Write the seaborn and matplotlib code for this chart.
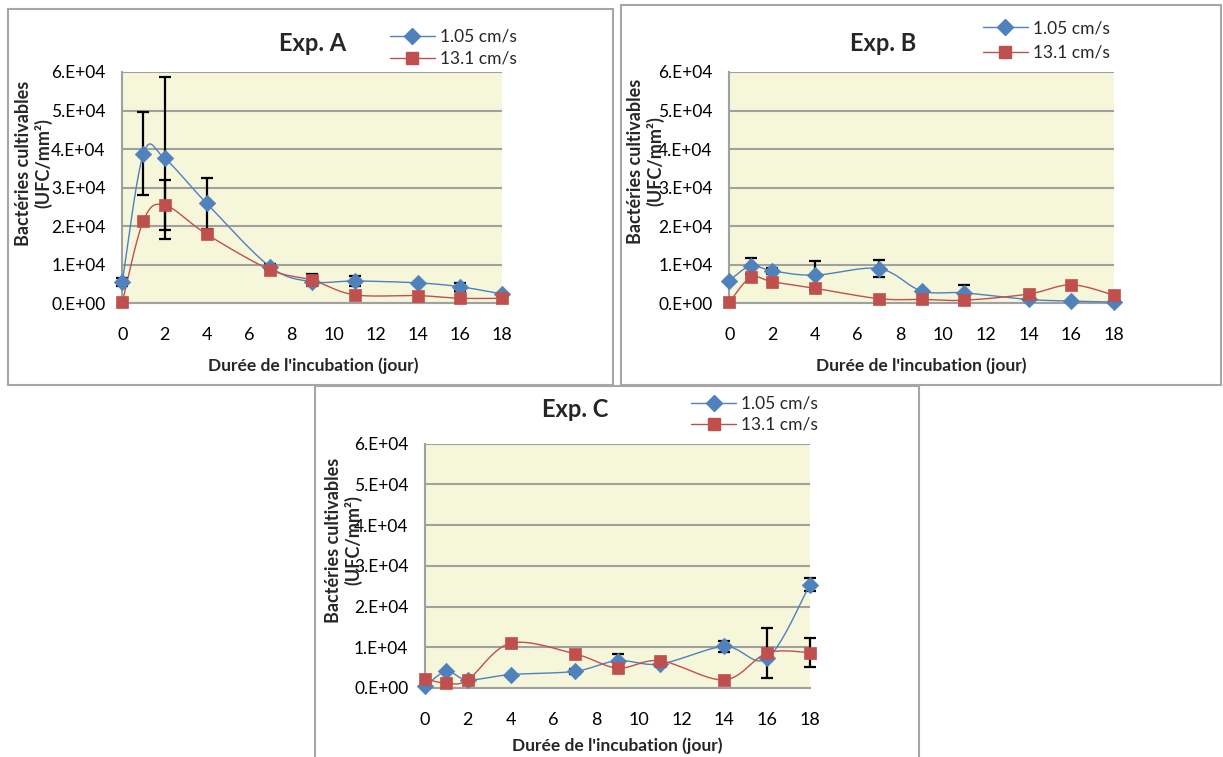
import numpy as np
import pandas as pd
import matplotlib
matplotlib.use("Agg")
import matplotlib.pyplot as plt
from matplotlib.lines import Line2D
from matplotlib.patches import Rectangle
from matplotlib.ticker import FuncFormatter, MultipleLocator
import seaborn as sns

# Données
days = [0, 1, 2, 4, 7, 9, 11, 14, 16, 18]
labels = ["1.05 cm/s", "13.1 cm/s"]

# Exp. A
a_slow = [5600, 38800, 37600, 25900, 9500, 5600, 5800, 5300, 4300, 2400]
a_fast = [300, 21400, 25500, 17900, 8700, 6000, 2200, 2000, 1300, 1300]
a_slow_err = [1000, 10700, 21000, 6600, 800, 0, 1200, 0, 1000, 0]
a_fast_err = [0, 0, 6500, 0, 0, 1500, 0, 0, 0, 0]

# Exp. B
b_slow = [5900, 9700, 8400, 7300, 9000, 3200, 2700, 1000, 600, 300]
b_fast = [300, 6700, 5600, 3900, 1200, 1000, 800, 2400, 4800, 2100]
b_slow_err = [0, 2000, 800, 3800, 2200, 0, 2000, 0, 0, 0]
b_fast_err = [0, 0, 0, 0, 0, 0, 0, 0, 0, 0]

# Exp. C
c_slow = [400, 4100, 2000, 3300, 4100, 6700, 5900, 10200, 7300, 25400]
c_fast = [2200, 1200, 2000, 11000, 8400, 4900, 6700, 2000, 8600, 8700]
c_slow_err = [0, 0, 0, 0, 600, 1600, 0, 1400, 0, 1500]
c_fast_err = [0, 0, 0, 0, 0, 0, 0, 0, 6100, 3600]

BLUE = "#4F81BD"
RED = "#C0504D"
GRID = "#A0A0A0"
BG = "#F6F6DA"
W, H = 1223, 757
FS = 12.5

sns.set_style("white")
plt.rcParams["font.family"] = ["Lato", "DejaVu Sans"]


def smooth(xs, ys, n=25):
    # lissage type Excel (Bezier, points de controle Catmull-Rom) en espace ecran
    sx, sy = 380 / 18, 231 / 60000
    P = np.column_stack([np.array(xs) * sx, np.array(ys) * sy])
    out = []
    for i in range(len(P) - 1):
        p0 = P[i - 1] if i > 0 else P[i]
        p1, p2 = P[i], P[i + 1]
        p3 = P[i + 2] if i + 2 < len(P) else P[i + 1]
        c1 = p1 + (p2 - p0) / 6
        c2 = p2 - (p3 - p1) / 6
        t = np.linspace(0, 1, n)[:, None]
        seg = (1 - t) ** 3 * p1 + 3 * (1 - t) ** 2 * t * c1 + 3 * (1 - t) * t ** 2 * c2 + t ** 3 * p2
        out.append(seg if i == 0 else seg[1:])
    pts = np.vstack(out)
    return pts[:, 0] / sx, pts[:, 1] / sy


def ax_rect(x0, y0, x1, y1):
    return [x0 / W, (H - y1) / H, (x1 - x0) / W, (y1 - y0) / H]


def draw_panel(ax, title, slow, fast, slow_err, fast_err, title_xy, leg_xy, leg_sp, ylab_xy, xlab_xy):
    ax.set_facecolor(BG)
    for vals, errs in [(slow, slow_err), (fast, fast_err)]:
        df = pd.DataFrame({"jour": days, "val": vals, "err": errs})
        e = df[df.err > 0]
        ax.errorbar(e.jour, e.val, yerr=e.err, fmt="none", ecolor="black",
                    elinewidth=1.6, capsize=4.5, capthick=1.6, zorder=3, clip_on=False)
    for vals, color, z in [(slow, BLUE, 4), (fast, RED, 5)]:
        sx, sy = smooth(days, vals)
        sns.lineplot(x=sx, y=sy, sort=False, estimator=None, color=color, lw=1.0,
                     ax=ax, zorder=z, clip_on=False)
    sns.scatterplot(x=days, y=slow, marker="D", s=70, color=BLUE, edgecolor=BLUE,
                    linewidth=0.5, ax=ax, zorder=6, clip_on=False)
    sns.scatterplot(x=days, y=fast, marker="s", s=85, color=RED, edgecolor=RED,
                    linewidth=0.5, ax=ax, zorder=7, clip_on=False)

    ax.set_xlim(0, 18)
    ax.set_ylim(0, 60000)
    ax.xaxis.set_major_locator(MultipleLocator(2))
    ax.yaxis.set_major_locator(MultipleLocator(10000))
    ax.yaxis.set_major_formatter(FuncFormatter(lambda v, p: f"{v:#.0E}"))
    ax.grid(axis="y", color=GRID, lw=1.5)
    ax.set_axisbelow(True)
    for s in ["top", "right"]:
        ax.spines[s].set_visible(False)
    for s in ["left", "bottom"]:
        ax.spines[s].set_color(GRID)
        ax.spines[s].set_linewidth(1.5)
    ax.tick_params(axis="x", direction="out", length=6, width=1.5, color=GRID,
                   pad=11, labelsize=13, labelcolor="black")
    ax.tick_params(axis="y", direction="out", length=5, width=1.5, color=GRID,
                   pad=7, labelsize=FS, labelcolor="black")
    ax.set_xlabel("")
    ax.set_ylabel("")

    ax.text(title_xy[0], title_xy[1], title, transform=ax.transAxes, ha="center",
            va="center", fontsize=17, fontweight="bold")
    ax.text(xlab_xy[0], xlab_xy[1], "Durée de l'incubation (jour)", transform=ax.transAxes,
            ha="center", va="center", fontsize=12.5, fontweight="bold")
    ax.text(ylab_xy[0], ylab_xy[1], "Bactéries cultivables\n(UFC/mm²)", transform=ax.transAxes,
            ha="center", va="center", rotation=90, multialignment="center",
            fontsize=13, fontweight="bold", linespacing=1.15)

    handles = [Line2D([], [], color=BLUE, lw=1.0, marker="D", markersize=8, markeredgecolor=BLUE),
               Line2D([], [], color=RED, lw=1.0, marker="s", markersize=9, markeredgecolor=RED)]
    ax.legend(handles, labels, loc="center left", bbox_to_anchor=leg_xy, frameon=False,
              fontsize=12.5, handlelength=2.6, handletextpad=0.3, borderpad=0,
              borderaxespad=0, labelspacing=leg_sp, numpoints=1)


fig = plt.figure(figsize=(W / 100, H / 100), dpi=100)

axA = fig.add_axes(ax_rect(122.3, 72, 502.3, 303.3))
axB = fig.add_axes(ax_rect(729.3, 72, 1114, 303.3))
axC = fig.add_axes(ax_rect(425, 443.7, 810, 688))

draw_panel(axA, "Exp. A", a_slow, a_fast, a_slow_err, a_fast_err,
           (0.502, 1.125), (0.704, 1.104), 0.35, (-0.232, 0.607), (0.502, -0.271))
draw_panel(axB, "Exp. B", b_slow, b_fast, b_slow_err, b_fast_err,
           (0.401, 1.125), (0.659, 1.136), 0.5, (-0.2165, 0.615), (0.50, -0.271))
draw_panel(axC, "Exp. C", c_slow, c_fast, c_slow_err, c_fast_err,
           (0.39, 1.139), (0.691, 1.120), 0.3, (-0.21, 0.606), (0.50, -0.238))

# cadres des graphiques
for x0, y0, x1, y1 in [(8, 9, 613, 385), (621, 5, 1221, 385), (315, 386, 919, 760)]:
    fig.add_artist(Rectangle((x0 / W, (H - y1) / H), (x1 - x0) / W, (y1 - y0) / H,
                             transform=fig.transFigure, fill=False, edgecolor="#A6A6A6",
                             lw=1.5, zorder=0))

fig.savefig("out.png", dpi=100)
